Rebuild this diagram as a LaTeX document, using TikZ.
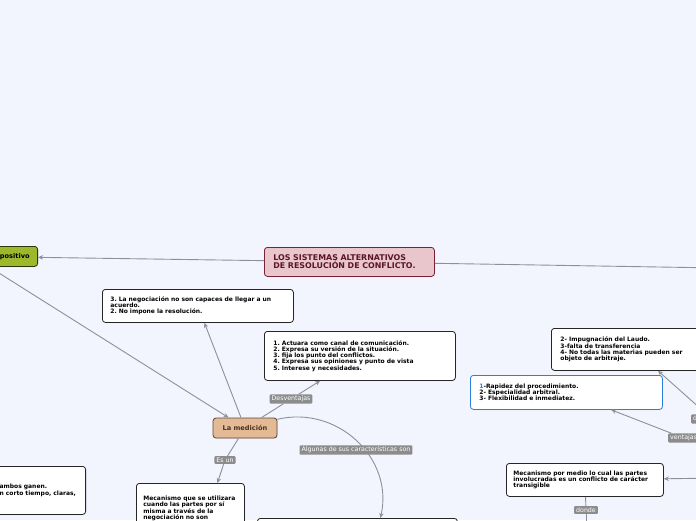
\documentclass[tikz,border=0pt]{standalone}
\usepackage{fontspec}
\setmainfont{DejaVu Sans}
\frenchspacing
\hyphenpenalty=10000
\exhyphenpenalty=10000
\usetikzlibrary{arrows.meta,calc,shadows}

\definecolor{bgcol}{HTML}{F3F5FE}
\definecolor{linkgray}{HTML}{8E9099}
\definecolor{lblgray}{HTML}{8C8C8C}
\definecolor{rootfill}{HTML}{E8C6CC}
\definecolor{rootdraw}{HTML}{7A1F35}
\definecolor{roottext}{HTML}{5C1426}
\definecolor{medfill}{HTML}{E4BA96}
\definecolor{meddraw}{HTML}{5E4632}
\definecolor{medtext}{HTML}{4A3020}
\definecolor{greenfill}{HTML}{9DB92B}
\definecolor{greendraw}{HTML}{2B360B}
\definecolor{bluedraw}{HTML}{2F7FD8}

\tikzset{
  idea/.style={draw=black!85, fill=white, rounded corners=3pt, line width=0.8pt,
    align=left, anchor=north west, inner xsep=8pt, inner ysep=3pt,
    font=\bfseries\fontsize{6}{6.3}\selectfont,
    drop shadow={opacity=0.2,shadow xshift=0.6pt,shadow yshift=-0.6pt}},
  lbl/.style={fill=lblgray, text=white, rounded corners=1pt, inner xsep=2pt,
    inner ysep=1.5pt, font=\fontsize{6.3}{7}\selectfont},
  link/.style={draw=linkgray, line width=0.9pt},
  tip/.style={-{Stealth[length=5pt,width=4.5pt]}}
}

\begin{document}
\begin{tikzpicture}[x=1pt,y=-1pt]
\clip (0,0) rectangle (696,520);
\fill[bgcol] (0,0) rectangle (696,520);

% main topics
\node[idea, fill=rootfill, draw=rootdraw, text=roottext, inner xsep=9pt,
  font=\bfseries\fontsize{7.9}{8.4}\selectfont, text width=152pt, minimum height=29pt]
  (root) at (264,247) {LOS SISTEMAS ALTERNATIVOS\\DE RESOLUCIÓN DE CONFLICTO.};
\node[idea, anchor=north east, fill=greenfill, draw=greendraw, align=right,
  font=\bfseries\fontsize{6.6}{7}\selectfont, text width=114pt, minimum height=20pt]
  (green) at (38,246) {positivo};
\node[idea, anchor=center, fill=medfill, draw=meddraw, text=medtext, align=center,
  font=\bfseries\fontsize{6.6}{7}\selectfont, text width=48pt, minimum height=20pt]
  (med) at (245,428) {La medición};

% left branch
\node[idea, text width=175pt, minimum height=33pt] (neg) at (102,289)
  {3. La negociación no son capaces de llegar a un\\acuerdo.\\2. No impone la resolución.};
\node[idea, inner xsep=9pt, text width=173pt, minimum height=49pt] (act) at (264,331)
  {1. Actuara como canal de comunicación.\\2. Expresa su versión de la situación.\\3. fija los punto del conflictos.\\4. Expresa sus opiniones y punto de vista\\5. Interese y necesidades.};
\node[idea, inner xsep=7pt, text width=94pt, minimum height=50pt] (mec1) at (136,483)
  {Mecanismo que se utilizara\\cuando las partes por sí\\misma a través de la\\negociación no son};
\node[idea, anchor=north east, inner xsep=7pt, text width=79pt, minimum height=48pt] (lft) at (86,466)
  {ambos ganen.\\n corto tiempo, claras,};
\node[idea, text width=184pt, minimum height=40pt] (bot) at (257,518) {};

% right branch
\node[idea, inner xsep=9pt, text width=150pt, minimum height=42pt] (imp) at (551,328)
  {2- Impugnación del Laudo.\\3-falta de transferencia\\4- No todas las materias pueden ser\\objeto de arbitraje.};
\node[idea, draw=bluedraw, inner xsep=9pt, text width=174pt, minimum height=34pt] (blue) at (470,375)
  {{\color{bluedraw}1}-Rapidez del procedimiento.\\2- Especialidad arbitral.\\3- Flexibilidad e inmediatez.};
\node[idea, inner xsep=7pt, text width=143pt, minimum height=33pt] (mec2) at (506,463)
  {Mecanismo por medio lo cual las partes\\involucradas es un conflicto de carácter\\transigible};

\coordinate (r1) at (720,268);
\coordinate (r3) at (720,478);
\coordinate (d1) at (586,530);

% curved link under its label
\draw[link,tip] (med.15) .. controls (337,405) and (394,458) .. ($(bot.north)+(23,0)$);

% labels
\node[lbl] (desv) at (291,399) {Desventajas};
\node[lbl] (esun) at (225,460) {Es un};
\node[lbl] (alg) at (356,450) {Algunas de sus características son};
\node[lbl, anchor=west] (vent) at (668,438) {ventajas};
\node[lbl, anchor=west] (desv2) at (691,419) {desventajas};
\node[lbl] (donde) at (586,510) {donde};

% links
\draw[link,tip] (root) -- (green);
\draw[link] (root) -- (r1);
\draw[link,tip] (green) -- (med);
\draw[link,tip] (med) -- (neg);
\draw[link] (med) -- (desv);
\draw[link,tip] (desv) -- (act);
\draw[link] (med) -- (esun);
\draw[link,tip] (esun) -- ($(mec1.north)+(27,0)$);
\draw[link,tip] (desv2) -- ($(imp.south west)+(107,0)$);
\draw[link,tip] (vent) -- (blue);
\draw[link,tip] (r3) -- (mec2);
\draw[link] (mec2) -- (donde);
\draw[link] (donde) -- (d1);
\end{tikzpicture}
\end{document}
